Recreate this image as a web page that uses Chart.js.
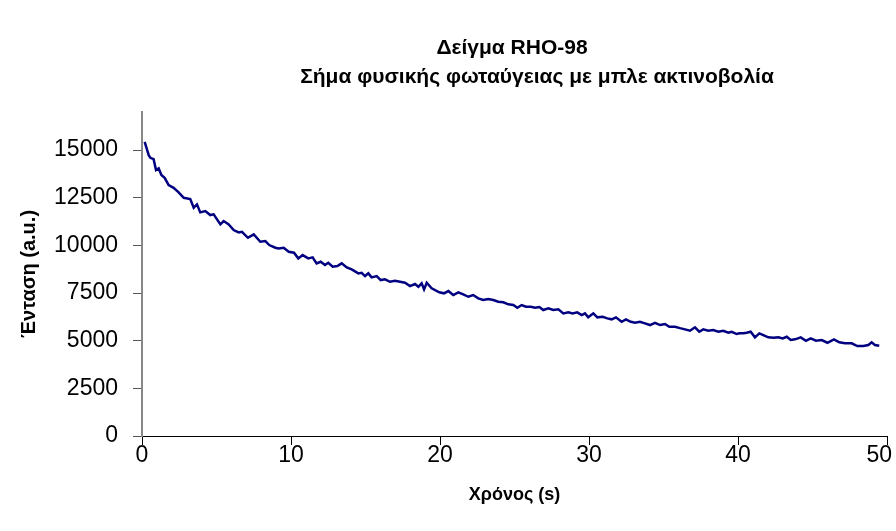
<!DOCTYPE html>
<html>
<head>
<meta charset="utf-8">
<script src="https://cdn.jsdelivr.net/npm/chart.js@4/dist/chart.umd.min.js"></script>
<style>
  html, body { margin: 0; padding: 0; background: #ffffff; }
  #wrap { width: 896px; height: 531px; position: relative; }
</style>
</head>
<body>
<div id="wrap"><canvas id="c" width="896" height="531"></canvas></div>
<script>
// Title and axis texts
const titleLines = ['Δείγμα RHO-98', 'Σήμα φυσικής φωταύγειας με μπλε ακτινοβολία'];
const xTitle = 'Χρόνος (s)';
const yTitle = 'Ένταση (a.u.)';

// Tick values shown on each axis
const xTicks = [0, 10, 20, 30, 40, 50];
const yTicks = [0, 2500, 5000, 7500, 10000, 12500, 15000];

// Measured decay: time (s) and intensity (a.u.)
const timeS = [
  0.18, 0.45, 0.56, 0.78, 0.94, 1.12, 1.30, 1.52, 1.79, 2.12, 2.46, 2.80, 3.24, 3.47, 3.69, 3.91,
  4.25, 4.58, 4.81, 5.26, 5.48, 5.82, 6.15, 6.49, 6.71, 7.11, 7.50, 7.94, 8.28, 8.54, 8.95, 9.17,
  9.51, 9.85, 10.20, 10.49, 10.78, 11.16, 11.45, 11.72, 11.99, 12.28, 12.50, 12.80, 13.11, 13.40,
  13.74, 14.07, 14.52, 14.74, 14.97, 15.19, 15.41, 15.75, 16.02, 16.31, 16.64, 16.98, 17.32, 17.65,
  17.99, 18.32, 18.55, 18.77, 18.93, 19.11, 19.44, 19.95, 20.27, 20.56, 20.89, 21.23, 21.56, 21.90,
  22.23, 22.57, 22.90, 23.24, 23.58, 23.91, 24.25, 24.58, 24.92, 25.19, 25.48, 25.77, 26.09, 26.38,
  26.67, 26.93, 27.27, 27.60, 27.94, 28.28, 28.61, 28.90, 29.21, 29.51, 29.73, 29.95, 30.29, 30.56,
  30.92, 31.23, 31.52, 31.81, 32.19, 32.48, 32.80, 33.09, 33.42, 33.76, 34.09, 34.43, 34.77, 35.10,
  35.39, 35.77, 36.11, 36.44, 36.78, 37.11, 37.40, 37.67, 38.01, 38.34, 38.68, 39.01, 39.35, 39.58,
  39.91, 40.09, 40.36, 40.58, 40.85, 41.14, 41.43, 41.70, 42.03, 42.37, 42.71, 43.00, 43.27, 43.54,
  43.83, 44.21, 44.56, 44.88, 45.23, 45.62, 46.00, 46.44, 46.80, 47.18, 47.63, 48.01, 48.41, 48.75,
  48.97, 49.19, 49.48
];
const intensity = [
  15435, 14738, 14597, 14528, 13952, 14040, 13690, 13548, 13165, 13023, 12782, 12500, 12430, 11974, 12153, 11733,
  11801, 11591, 11628, 11104, 11277, 11104, 10805, 10684, 10716, 10401, 10579, 10191, 10228, 10018, 9878, 9843,
  9878, 9668, 9616, 9320, 9494, 9320, 9372, 9058, 9142, 8969, 9090, 8880, 8917, 9058,
  8848, 8743, 8533, 8565, 8392, 8533, 8324, 8392, 8182, 8219, 8093, 8145, 8093, 8040,
  7868, 7973, 7831, 8009, 7694, 8040, 7747, 7540, 7485, 7605, 7396, 7537, 7432, 7306,
  7396, 7222, 7133, 7186, 7133, 7044, 7013, 6908, 6871, 6729, 6871, 6782, 6782, 6729,
  6766, 6609, 6698, 6609, 6645, 6435, 6488, 6435, 6488, 6346, 6435, 6230, 6435, 6226,
  6257, 6173, 6121, 6226, 5995, 6121, 5995, 5942, 5995, 5911, 5822, 5942, 5822, 5874,
  5733, 5733, 5660, 5596, 5523, 5701, 5470, 5596, 5523, 5560, 5470, 5523, 5418, 5470,
  5350, 5386, 5386, 5418, 5470, 5177, 5386, 5298, 5177, 5156, 5177, 5124, 5208, 5035,
  5072, 5177, 4998, 5124, 4998, 5035, 4893, 5072, 4914, 4862, 4862, 4720, 4720, 4773,
  4914, 4773, 4736
];

const points = timeS.map((t, i) => ({ x: t, y: intensity[i] }));

const FONT = '"Liberation Sans", Arial, sans-serif';

// Chart title, axis titles and x tick labels drawn onto the canvas
const textPlugin = {
  id: 'texts',
  afterDraw(chart) {
    const ctx = chart.ctx;
    const a = chart.chartArea;
    const xs = chart.scales.x;
    ctx.save();
    ctx.fillStyle = '#000000';
    ctx.textAlign = 'center';
    ctx.textBaseline = 'middle';

    // x tick labels, kept inside the canvas at the right edge
    ctx.font = '23px ' + FONT;
    xTicks.forEach(v => {
      const label = String(v);
      const w = ctx.measureText(label).width;
      const px = Math.min(xs.getPixelForValue(v), chart.width - 4 - w / 2);
      ctx.fillText(label, px, 456);
    });

    ctx.font = 'bold 21px ' + FONT;
    ctx.fillText(titleLines[0], 512, 48);
    ctx.fillText(titleLines[1], 537, 77);

    ctx.font = 'bold 18px ' + FONT;
    ctx.fillText(xTitle, (a.left + a.right) / 2, 495);

    ctx.font = 'bold 20px ' + FONT;
    ctx.translate(29, 274);
    ctx.rotate(-Math.PI / 2);
    ctx.fillText(yTitle, 0, 0);
    ctx.restore();
  }
};

new Chart(document.getElementById('c'), {
  type: 'line',
  data: {
    datasets: [{
      data: points,
      borderColor: '#000080',
      borderWidth: 2.5,
      pointRadius: 0,
      tension: 0,
      fill: false
    }]
  },
  options: {
    responsive: false,
    animation: false,
    events: [],
    layout: { padding: { top: 112, right: 9, left: 0, bottom: 0 } },
    plugins: {
      legend: { display: false },
      title: { display: false },
      tooltip: { enabled: false }
    },
    scales: {
      x: {
        type: 'linear',
        min: 0,
        max: 50,
        afterBuildTicks(scale) { scale.ticks = xTicks.map(v => ({ value: v })); },
        afterFit(scale) {
          scale.height = 95;
          scale.paddingLeft = 0;
          scale.paddingRight = 0;
        },
        ticks: { display: false },
        grid: {
          display: true,
          drawOnChartArea: false,
          drawTicks: true,
          tickLength: 9,
          tickColor: '#000000',
          tickWidth: 1
        },
        border: { display: true, color: '#000000', width: 1 }
      },
      y: {
        type: 'linear',
        min: 0,
        max: 17000,
        afterBuildTicks(scale) { scale.ticks = yTicks.map(v => ({ value: v })); },
        afterFit(scale) {
          scale.width = 142;
          scale.paddingTop = 0;
          scale.paddingBottom = 0;
        },
        ticks: {
          color: '#000000',
          font: { family: FONT, size: 23 },
          padding: 15,
          callback: v => String(v)
        },
        grid: {
          display: true,
          drawOnChartArea: false,
          drawTicks: true,
          tickLength: 9,
          tickColor: '#555555',
          tickWidth: 1
        },
        border: { display: true, color: '#888888', width: 2 }
      }
    }
  },
  plugins: [textPlugin]
});
</script>
</body>
</html>
